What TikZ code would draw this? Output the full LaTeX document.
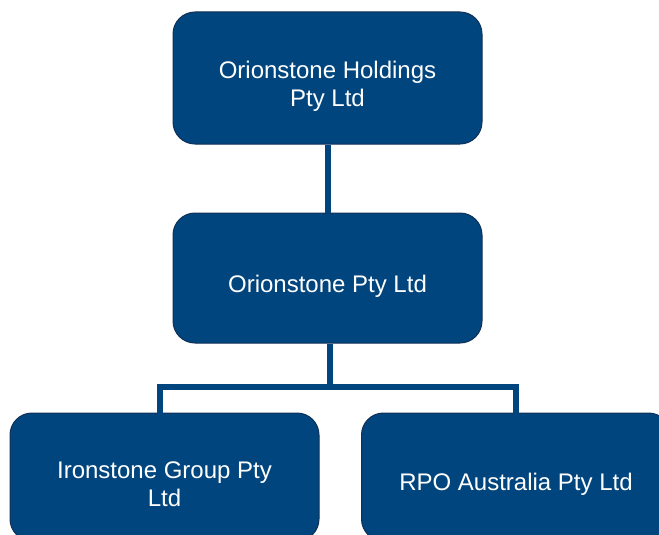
\documentclass[tikz,border=0pt]{standalone}
\usepackage{fontspec}
\setmainfont{Liberation Sans}
\definecolor{navy}{RGB}{0,69,125}
\definecolor{navyedge}{RGB}{16,48,88}
\begin{document}
\begin{tikzpicture}[x=1pt,y=-1pt,
  orgbox/.style={draw=navyedge,line width=1pt,fill=navy,rounded corners=22pt,
    minimum width=309pt,inner sep=0pt},
  orgtext/.style={text=white,font=\fontsize{24}{28}\selectfont,align=center,inner sep=0pt},
  link/.style={draw=navy,line width=6pt}]
\useasboundingbox (0,0) rectangle (659,535);
\clip (0,0) rectangle (659,535);
\node[orgbox,minimum height=132pt] (top) at (327.5,78) {};
\node[orgbox,minimum height=130pt] (mid) at (327.5,278) {};
\node[orgbox,minimum height=128pt] (left) at (164.5,477) {};
\node[orgbox,minimum height=128pt] (right) at (516,477) {};
\node[orgtext] (ttop) at ([yshift=-8.5pt]top.center) {Orionstone Holdings\\Pty Ltd};
\node[orgtext] (tmid) at ([yshift=-8pt]mid.center) {Orionstone Pty Ltd};
\node[orgtext] (tleft) at ([yshift=-7pt]left.center) {Ironstone Group Pty\\Ltd};
\node[orgtext] (tright) at ([yshift=-7pt]right.center) {RPO Australia Pty Ltd};
\coordinate (j) at (330,387);
\coordinate (jl) at (160,387);
\coordinate (jr) at (516,387);
\path[link] (top.south) -- (mid.north);
\path[link] (mid.south -| j) -- (j);
\path[link] ([xshift=-3pt]jl) -- ([xshift=3pt]jr);
\path[link] (jl) -- ([yshift=-3pt]left.north -| jl);
\path[link] (jr) -- ([yshift=-5pt]right.north -| jr);
\end{tikzpicture}
\end{document}
